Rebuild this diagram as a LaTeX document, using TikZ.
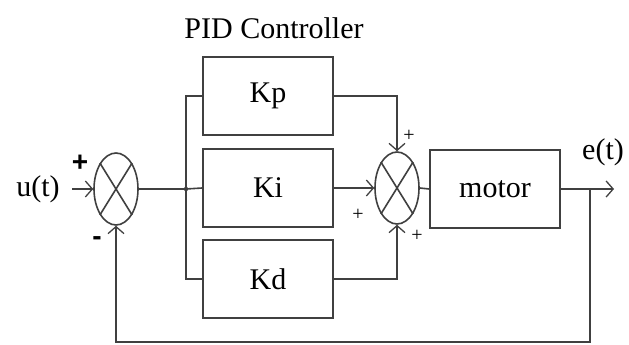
\documentclass[tikz,border=0pt]{standalone}
\usepackage{fontspec}
\setmainfont{Liberation Serif}
\newfontfamily\signfont{Liberation Sans}
\usetikzlibrary{shapes.geometric,arrows.meta}
\tikzset{
  ln/.style={draw=black!75, line width=1.6pt},
  arr/.style={ln, -{Straight Barb[length=7pt,width=16pt,line width=1.3pt]}},
  blk/.style={ln, rectangle, minimum width=130pt, minimum height=78pt, inner sep=0pt, font=\fontsize{30}{35}\selectfont},
  sum/.style={ln, ellipse, minimum width=44pt, minimum height=72pt, inner sep=0pt},
  lbl/.style={inner sep=0pt, font=\fontsize{30}{35}\selectfont},
  sgn/.style={inner sep=0pt, font=\fontsize{20}{24}\selectfont},
  bsgn/.style={inner sep=0pt, font=\fontsize{28}{32}\selectfont\signfont\bfseries},
}
\begin{document}
\begin{tikzpicture}[x=1pt,y=-1pt]
\useasboundingbox[fill=white] (0,0) rectangle (629,345);
% title
\node[lbl] (title) at (274,28) {PID Controller};
% sums
\node[sum] (s1) at (116,189) {};
\node[sum] (s2) at (397,188) {};
\draw[ln] (s1.north east) -- (s1.south west) (s1.north west) -- (s1.south east);
\draw[ln] (s2.north east) -- (s2.south west) (s2.north west) -- (s2.south east);
% blocks
\node[blk] (kp) at (268,96) {Kp};
\node[blk] (ki) at (268,188) {Ki};
\node[blk] (kd) at (268,279) {Kd};
\node[blk] (motor) at (495,189) {motor};
% labels
\node[lbl] (u) at (38,189) {u(t)};
\node[lbl] (e) at (603,152) {e(t)};
% input
\coordinate (uin) at (72,189);
\draw[arr] (uin) -- (s1.west);
\node[bsgn] (p1) at (80,163) {+};
\node[bsgn] (m1) at (97,241) {-};
% branch
\coordinate (j) at (186,189);
\draw[ln] (s1.east) -- (j);
\fill[black!75] (j) circle (2.2pt);
\draw[ln] (kp.west) -| (j) |- (kd.west);
\draw[ln] (j) -- (ki.west);
% to sum2
\draw[arr] (kp.east) -| (s2.north);
\draw[arr] (ki.east) -- (s2.west);
\draw[arr] (kd.east) -| (s2.south);
\node[sgn] (p2) at (409,136) {+};
\node[sgn] (p3) at (358,215) {+};
\node[sgn] (p4) at (417,236) {+};
% to motor
\draw[ln] (s2.east) -- (motor.west);
% output
\coordinate (out) at (614,189);
\coordinate (tap) at (590,189);
\coordinate (bot) at (590,342);
\draw[arr] (motor.east) -- (out);
\draw[arr] (tap) -- (bot) -| (s1.south);
\end{tikzpicture}
\end{document}
